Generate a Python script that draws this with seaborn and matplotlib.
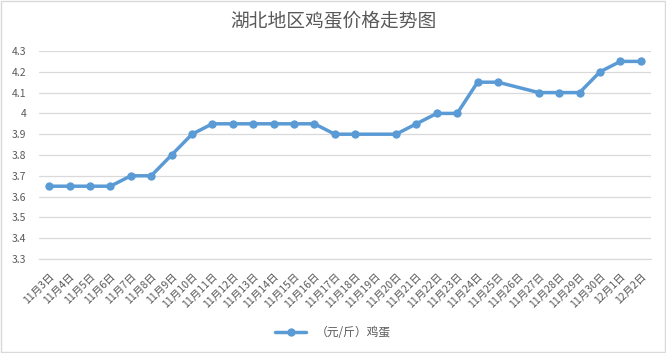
import pandas as pd
import numpy as np
import matplotlib
matplotlib.use('Agg')
import matplotlib.pyplot as plt
import seaborn as sns
from matplotlib.ticker import MultipleLocator, FixedLocator

# Données : prix des oeufs (yuan / jin), None = pas de relevé ce jour
dates = ['11月3日', '11月4日', '11月5日', '11月6日', '11月7日', '11月8日', '11月9日',
         '11月10日', '11月11日', '11月12日', '11月13日', '11月14日', '11月15日',
         '11月16日', '11月17日', '11月18日', '11月19日', '11月20日', '11月21日',
         '11月22日', '11月23日', '11月24日', '11月25日', '11月26日', '11月27日',
         '11月28日', '11月29日', '11月30日', '12月1日', '12月2日']
prices = [3.65, 3.65, 3.65, 3.65, 3.70, 3.70, 3.80, 3.90, 3.95, 3.95, 3.95, 3.95,
          3.95, 3.95, 3.90, 3.90, None, 3.90, 3.95, 4.00, 4.00, 4.15, 4.15, None,
          4.10, 4.10, 4.10, 4.20, 4.25, 4.25]
series_name = '（元/斤）鸡蛋'
title = '湖北地区鸡蛋价格走势图'

sns.set_style('white')
plt.rcParams['font.family'] = ['Noto Sans CJK SC', 'DejaVu Sans']

grey_txt = '#595959'
grey_line = '#D9D9D9'
blue = '#5B9BD5'

df = pd.DataFrame({'pos': range(len(dates)), 'price': prices}).dropna()

fig = plt.figure(figsize=(6.66, 3.53), dpi=100)
ax = fig.add_axes([39 / 666, 1 - 259 / 353, (651 - 39) / 666, (259 - 51) / 353])

sns.lineplot(data=df, x='pos', y='price', ax=ax, color=blue, linewidth=2.5,
             marker='o', markersize=6, markeredgewidth=0, label=series_name)

# axe y
ax.set_ylim(3.3, 4.3)
ax.yaxis.set_major_locator(MultipleLocator(0.1))
ax.set_yticklabels([f'{v:g}' for v in np.round(ax.get_yticks(), 1)])
ax.grid(axis='y', color=grey_line, linewidth=0.9)
ax.set_axisbelow(True)

# axe x : labels au centre, graduations entre les catégories (style Excel)
ax.set_xlim(-0.5, len(dates) - 0.5)
ax.set_xticks(range(len(dates)))
ax.set_xticklabels(dates, rotation=45, ha='right', rotation_mode='anchor')
ax.xaxis.set_minor_locator(FixedLocator(np.arange(-0.5, len(dates), 1)))
ax.tick_params(axis='x', which='major', length=0, pad=9, labelsize=7.6, labelcolor=grey_txt)
ax.tick_params(axis='x', which='minor', length=4, color=grey_line, width=0.9)
ax.tick_params(axis='y', length=0, pad=9, labelsize=7.5, labelcolor=grey_txt)

for s in ['top', 'right', 'left']:
    ax.spines[s].set_visible(False)
ax.spines['bottom'].set_color(grey_line)
ax.spines['bottom'].set_linewidth(0.9)

ax.set_xlabel('')
ax.set_ylabel('')

# légende en bas
handles, labels = ax.get_legend_handles_labels()
ax.get_legend().remove()
leg = fig.legend(handles, labels, loc='center', bbox_to_anchor=(0.5, 1 - 333 / 353),
                 frameon=False, fontsize=8.5, handlelength=2.6)
for t in leg.get_texts():
    t.set_color(grey_txt)

fig.text(0.5, 1 - 21 / 353, title, ha='center', va='center', fontsize=13.5, color=grey_txt)

# cadre autour du graphique
fig.patches.append(plt.Rectangle((0.001, 0.002), 0.997, 0.995, transform=fig.transFigure,
                                 fill=False, edgecolor=grey_line, linewidth=1))

fig.savefig('out.png', dpi=100)
